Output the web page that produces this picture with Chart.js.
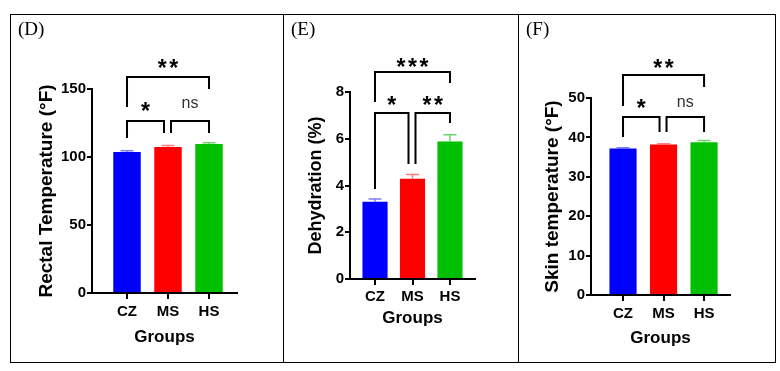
<!DOCTYPE html>
<html>
<head>
<meta charset="utf-8">
<script src="https://cdn.jsdelivr.net/npm/chart.js@4.4.0/dist/chart.umd.min.js"></script>
<style>
  body { margin: 0; background: #fff; width: 780px; height: 371px; position: relative; overflow: hidden; }
  #frame { position: absolute; left: 10px; top: 14px; width: 764px; height: 347px; border: 1px solid #000; }
  .sep { position: absolute; top: 14px; height: 349px; width: 1px; background: #000; }
  canvas { position: absolute; top: 15px; }
</style>
</head>
<body>
<div id="frame"></div>
<div class="sep" style="left:283px"></div>
<div class="sep" style="left:518px"></div>
<canvas id="panelD" width="272" height="347" style="left:11px"></canvas>
<canvas id="panelE" width="234" height="347" style="left:284px"></canvas>
<canvas id="panelF" width="256" height="347" style="left:519px"></canvas>
<script>
// groups and values
const groups = ['CZ', 'MS', 'HS'];
const rectalMean = [103.7, 107.4, 109.6];
const rectalErr = [0.9, 1.0, 0.8];
const dehydMean = [3.31, 4.29, 5.88];
const dehydErr = [0.11, 0.18, 0.29];
const skinMean = [37.2, 38.2, 38.8];
const skinErr = [0.2, 0.2, 0.4];
// significance: [from, to, label]
const rectalSig = [[0, 2, '**'], [0, 1, '*'], [1, 2, 'ns']];
const dehydSig = [[0, 2, '***'], [0, 1, '*'], [1, 2, '**']];
const skinSig = [[0, 2, '**'], [0, 1, '*'], [1, 2, 'ns']];

const barColors = ['#0000ff', '#ff0000', '#00c000'];
const errColors = ['rgba(80,80,255,0.75)', 'rgba(255,80,80,0.75)', 'rgba(60,200,60,0.75)'];
const FONT = '"Liberation Sans", Arial, sans-serif';

// bracket geometry in y-axis units: [bar level, left leg end, right leg end, label lift px, inner x shift left, right]
const rectalBr = [[158.8, 136.8, 150, 14, 0, 0], [126.5, 114, 117.6, 15, 0, -4], [126.5, 117.6, 117.6, 17, 3, 0]];
const dehydBr = [[8.86, 7.57, 8.39, 10, 0, 0], [7.10, 3.85, 4.92, 13, 0, -4], [7.10, 4.92, 6.67, 13, 3, 0]];
const skinBr = [[55.8, 48, 52.8, 12, 0, 0], [45.2, 40.1, 41.4, 14, 0, -4], [45.2, 41.4, 41.4, 14, 3, 0]];

const extras = {
  id: 'extras',
  afterDraw(chart, args, o) {
    const { ctx, scales: { x, y } } = chart;
    ctx.save();
    // error bars (upper half only)
    o.errs.forEach((e, i) => {
      const cx = x.getPixelForValue(i + 1);
      const base = y.getPixelForValue(o.means[i]);
      const top = y.getPixelForValue(o.means[i] + e);
      ctx.strokeStyle = errColors[i];
      ctx.lineWidth = 1.5;
      ctx.beginPath();
      ctx.moveTo(cx, base);
      ctx.lineTo(cx, top);
      ctx.moveTo(cx - 6.5, top);
      ctx.lineTo(cx + 6.5, top);
      ctx.stroke();
    });
    // significance brackets
    ctx.strokeStyle = '#000';
    ctx.fillStyle = '#000';
    ctx.lineWidth = 2;
    ctx.lineCap = 'butt';
    ctx.lineJoin = 'miter';
    o.sig.forEach(([a, b, label], k) => {
      const [lvl, legA, legB, lift, shA, shB] = o.br[k];
      const xa = x.getPixelForValue(a + 1) + shA;
      const xb = x.getPixelForValue(b + 1) + shB;
      const yl = Math.round(y.getPixelForValue(lvl));
      ctx.beginPath();
      ctx.moveTo(xa, y.getPixelForValue(legA));
      ctx.lineTo(xa, yl);
      ctx.lineTo(xb, yl);
      ctx.lineTo(xb, y.getPixelForValue(legB));
      ctx.stroke();
      const cx = (xa + xb) / 2;
      const cy = yl - lift;
      ctx.textAlign = 'center';
      ctx.textBaseline = 'alphabetic';
      if (label === 'ns') {
        ctx.font = '16px ' + FONT;
        ctx.fillStyle = '#333';
        ctx.fillText(label, cx, cy + 4);
      } else {
        ctx.font = 'bold 23px ' + FONT;
        ctx.fillStyle = '#000';
        const n = label.length;
        for (let i = 0; i < n; i++) {
          ctx.fillText('*', cx + (i - (n - 1) / 2) * 11.5, cy + 13);
        }
      }
    });
    // panel letter
    ctx.font = '19px "Liberation Serif", "Times New Roman", serif';
    ctx.fillStyle = '#000';
    ctx.textAlign = 'left';
    ctx.textBaseline = 'alphabetic';
    ctx.fillText(o.letter, o.letterX, 20);
    ctx.restore();
  }
};

function panel(id, p) {
  const canvas = document.getElementById(id);
  const w = canvas.width, h = canvas.height;
  new Chart(canvas, {
    type: 'bar',
    data: {
      datasets: [{
        data: p.means.map((v, i) => ({ x: i + 1, y: v })),
        backgroundColor: barColors,
        borderWidth: 0,
        barPercentage: 0.67,
        categoryPercentage: 1
      }]
    },
    options: {
      responsive: false,
      animation: false,
      devicePixelRatio: 1,
      layout: { padding: { left: 0, top: p.area.top, right: w - p.area.right, bottom: 0 } },
      plugins: {
        legend: { display: false },
        tooltip: { enabled: false },
        extras: { means: p.means, errs: p.errs, sig: p.sig, br: p.br, letter: p.letter, letterX: 7 }
      },
      scales: {
        x: {
          type: 'linear',
          min: p.xMin,
          max: p.xMax,
          offset: false,
          z: 1,
          afterBuildTicks: s => { s.ticks = groups.map((g, i) => ({ value: i + 1 })); },
          afterFit: s => { s.height = h - p.area.bottom; },
          ticks: {
            callback: v => groups[v - 1],
            color: '#000',
            font: { family: FONT, size: 15, weight: 'bold' },
            padding: p.xTickPad,
            autoSkip: false,
            maxRotation: 0
          },
          grid: { display: true, drawOnChartArea: false, drawTicks: true, tickLength: 6, lineWidth: 2, color: '#000', offset: false },
          border: { display: true, color: '#000', width: 2 },
          title: {
            display: true, text: 'Groups', color: '#000',
            font: { family: FONT, size: 17, weight: 'bold' },
            padding: { top: 0, bottom: p.xTitlePad }
          }
        },
        y: {
          min: 0,
          max: p.yMax,
          z: 1,
          afterFit: s => { s.width = p.area.left; },
          ticks: {
            stepSize: p.yStep,
            color: '#000',
            font: { family: FONT, size: 15, weight: 'bold' },
            padding: 1
          },
          grid: { display: true, drawOnChartArea: false, drawTicks: true, tickLength: 5, lineWidth: 2, color: '#000' },
          border: { display: true, color: '#000', width: 2 },
          title: {
            display: true, text: p.yTitle, color: '#000',
            font: { family: FONT, size: p.yTitleSize, weight: 'bold' },
            padding: { top: p.yTitlePad, bottom: 0 }
          }
        }
      }
    },
    plugins: [extras]
  });
}

panel('panelD', {
  letter: '(D)', means: rectalMean, errs: rectalErr, sig: rectalSig, br: rectalBr,
  area: { left: 81, right: 226, top: 74, bottom: 278 },
  xMin: 0.146, xMax: 3.683, yMax: 150, yStep: 50,
  yTitle: 'Rectal Temperature (°F)', yTitleSize: 19, yTitlePad: 24,
  xTickPad: 4, xTitlePad: 14
});
panel('panelE', {
  letter: '(E)', means: dehydMean, errs: dehydErr, sig: dehydSig, br: dehydBr,
  area: { left: 66, right: 191, top: 77, bottom: 264 },
  xMin: 0.333, xMax: 3.667, yMax: 8, yStep: 2,
  yTitle: 'Dehydration (%)', yTitleSize: 18, yTitlePad: 21,
  xTickPad: 3, xTitlePad: 33
});
panel('panelF', {
  letter: '(F)', means: skinMean, errs: skinErr, sig: skinSig, br: skinBr,
  area: { left: 72, right: 211, top: 83, bottom: 280 },
  xMin: 0.21, xMax: 3.64, yMax: 50, yStep: 10,
  yTitle: 'Skin temperature (°F)', yTitleSize: 19, yTitlePad: 22,
  xTickPad: 4, xTitlePad: 13
});
</script>
</body>
</html>
